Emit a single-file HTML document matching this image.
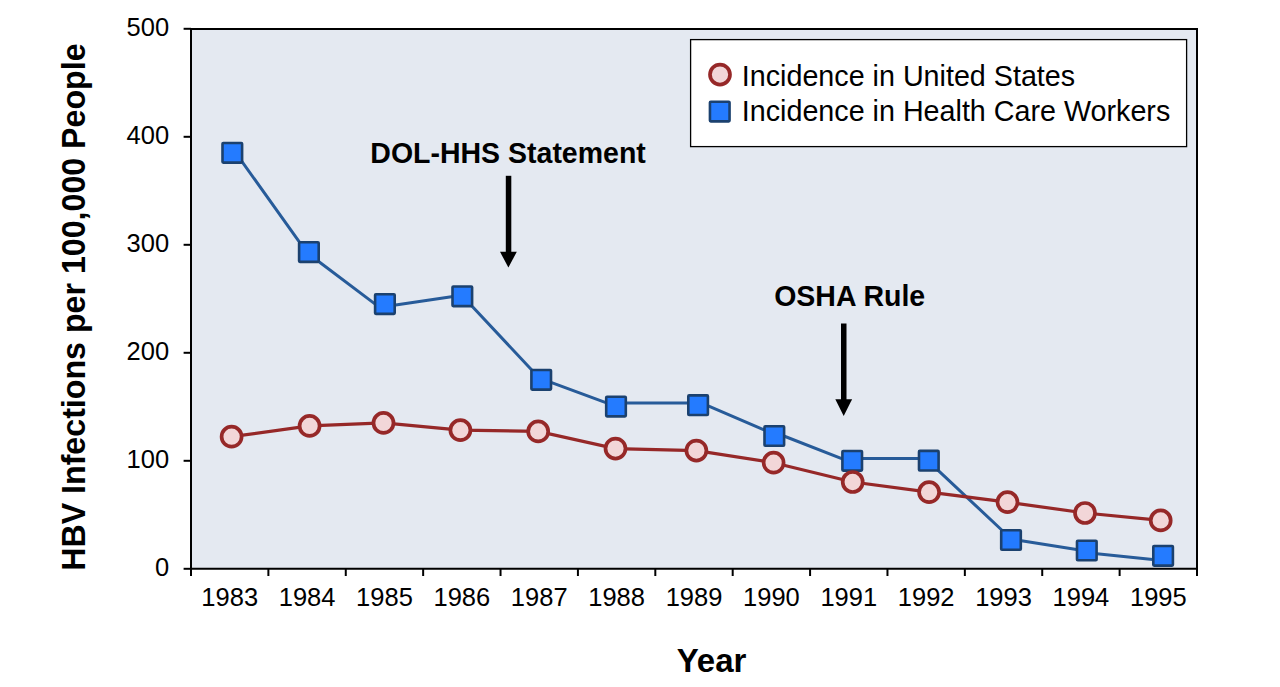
<!DOCTYPE html><html><head><meta charset="utf-8"><style>html,body{margin:0;padding:0;background:#fff;width:1280px;height:687px;overflow:hidden}svg{display:block}text{font-family:"Liberation Sans",sans-serif}</style></head><body>
<svg width="1280" height="687" viewBox="0 0 1280 687">
<rect x="191" y="29" width="1006" height="540" fill="#e4e9f1"/>
<rect x="690.6" y="39.6" width="496" height="107" fill="#fff" stroke="#000" stroke-width="1.3"/>
<path d="M191 28.9H1197V568.8H191Z" fill="none" stroke="#000" stroke-width="2"/>
<line x1="183.6" y1="568.80" x2="191" y2="568.80" stroke="#000" stroke-width="2"/>
<text transform="translate(169.10 576.20)" font-size="25.5" text-anchor="end">0</text>
<line x1="183.6" y1="460.80" x2="191" y2="460.80" stroke="#000" stroke-width="2"/>
<text transform="translate(169.10 468.20)" font-size="25.5" text-anchor="end">100</text>
<line x1="183.6" y1="352.80" x2="191" y2="352.80" stroke="#000" stroke-width="2"/>
<text transform="translate(169.10 360.20)" font-size="25.5" text-anchor="end">200</text>
<line x1="183.6" y1="244.80" x2="191" y2="244.80" stroke="#000" stroke-width="2"/>
<text transform="translate(169.10 252.20)" font-size="25.5" text-anchor="end">300</text>
<line x1="183.6" y1="136.80" x2="191" y2="136.80" stroke="#000" stroke-width="2"/>
<text transform="translate(169.10 144.20)" font-size="25.5" text-anchor="end">400</text>
<line x1="183.6" y1="28.80" x2="191" y2="28.80" stroke="#000" stroke-width="2"/>
<text transform="translate(169.10 36.20)" font-size="25.5" text-anchor="end">500</text>
<line x1="191.00" y1="568" x2="191.00" y2="576" stroke="#000" stroke-width="2"/>
<line x1="268.38" y1="568" x2="268.38" y2="576" stroke="#000" stroke-width="2"/>
<line x1="345.77" y1="568" x2="345.77" y2="576" stroke="#000" stroke-width="2"/>
<line x1="423.15" y1="568" x2="423.15" y2="576" stroke="#000" stroke-width="2"/>
<line x1="500.54" y1="568" x2="500.54" y2="576" stroke="#000" stroke-width="2"/>
<line x1="577.92" y1="568" x2="577.92" y2="576" stroke="#000" stroke-width="2"/>
<line x1="655.31" y1="568" x2="655.31" y2="576" stroke="#000" stroke-width="2"/>
<line x1="732.69" y1="568" x2="732.69" y2="576" stroke="#000" stroke-width="2"/>
<line x1="810.08" y1="568" x2="810.08" y2="576" stroke="#000" stroke-width="2"/>
<line x1="887.46" y1="568" x2="887.46" y2="576" stroke="#000" stroke-width="2"/>
<line x1="964.85" y1="568" x2="964.85" y2="576" stroke="#000" stroke-width="2"/>
<line x1="1042.23" y1="568" x2="1042.23" y2="576" stroke="#000" stroke-width="2"/>
<line x1="1119.62" y1="568" x2="1119.62" y2="576" stroke="#000" stroke-width="2"/>
<line x1="1197.00" y1="568" x2="1197.00" y2="576" stroke="#000" stroke-width="2"/>
<text transform="translate(229.69 606.10)" font-size="25.5" text-anchor="middle">1983</text>
<text transform="translate(307.08 606.10)" font-size="25.5" text-anchor="middle">1984</text>
<text transform="translate(384.46 606.10)" font-size="25.5" text-anchor="middle">1985</text>
<text transform="translate(461.85 606.10)" font-size="25.5" text-anchor="middle">1986</text>
<text transform="translate(539.23 606.10)" font-size="25.5" text-anchor="middle">1987</text>
<text transform="translate(616.62 606.10)" font-size="25.5" text-anchor="middle">1988</text>
<text transform="translate(694.00 606.10)" font-size="25.5" text-anchor="middle">1989</text>
<text transform="translate(771.38 606.10)" font-size="25.5" text-anchor="middle">1990</text>
<text transform="translate(848.77 606.10)" font-size="25.5" text-anchor="middle">1991</text>
<text transform="translate(926.15 606.10)" font-size="25.5" text-anchor="middle">1992</text>
<text transform="translate(1003.54 606.10)" font-size="25.5" text-anchor="middle">1993</text>
<text transform="translate(1080.92 606.10)" font-size="25.5" text-anchor="middle">1994</text>
<text transform="translate(1158.31 606.10)" font-size="25.5" text-anchor="middle">1995</text>
<text transform="translate(711.50 672.00)" font-size="33" font-weight="bold" text-anchor="middle">Year</text>
<text transform="translate(84.8 307.1) rotate(-90) scale(0.99 1)" font-size="32.5" font-weight="bold" text-anchor="middle">HBV Infections per 100,000 People</text>
<path d="M240.4 159.4L301.6 245.1M316.0 259.5L378.2 306.4M390.6 305.7L456.5 295.9M468.8 302.8L534.8 373.2M546.9 380.8L609.9 404.2M621.4 403.0L692.5 403.0M704.1 404.1L768.4 431.7M780.0 434.5L846.2 460.3M857.6 458.6L923.4 458.6M934.4 466.8L1004.9 533.0M1016.7 540.1L1081.3 550.2M1092.0 553.3L1157.5 559.9" fill="none" stroke="#275b99" stroke-width="3.0"/>
<rect x="222.50" y="143.00" width="19.6" height="19.6" rx="0.8" fill="#247bff" stroke="#1b416f" stroke-width="2.6"/>
<rect x="299.10" y="242.30" width="19.6" height="19.6" rx="0.8" fill="#247bff" stroke="#1b416f" stroke-width="2.6"/>
<rect x="375.10" y="294.30" width="19.6" height="19.6" rx="0.8" fill="#247bff" stroke="#1b416f" stroke-width="2.6"/>
<rect x="452.50" y="286.50" width="19.6" height="19.6" rx="0.8" fill="#247bff" stroke="#1b416f" stroke-width="2.6"/>
<rect x="531.40" y="370.00" width="19.6" height="19.6" rx="0.8" fill="#247bff" stroke="#1b416f" stroke-width="2.6"/>
<rect x="606.20" y="396.80" width="19.6" height="19.6" rx="0.8" fill="#247bff" stroke="#1b416f" stroke-width="2.6"/>
<rect x="688.30" y="395.40" width="19.6" height="19.6" rx="0.8" fill="#247bff" stroke="#1b416f" stroke-width="2.6"/>
<rect x="764.50" y="426.20" width="19.6" height="19.6" rx="0.8" fill="#247bff" stroke="#1b416f" stroke-width="2.6"/>
<rect x="842.40" y="451.00" width="19.6" height="19.6" rx="0.8" fill="#247bff" stroke="#1b416f" stroke-width="2.6"/>
<rect x="919.00" y="450.90" width="19.6" height="19.6" rx="0.8" fill="#247bff" stroke="#1b416f" stroke-width="2.6"/>
<rect x="1001.20" y="530.20" width="19.6" height="19.6" rx="0.8" fill="#247bff" stroke="#1b416f" stroke-width="2.6"/>
<rect x="1077.00" y="540.70" width="19.6" height="19.6" rx="0.8" fill="#247bff" stroke="#1b416f" stroke-width="2.6"/>
<rect x="1153.30" y="546.00" width="19.6" height="19.6" rx="0.8" fill="#247bff" stroke="#1b416f" stroke-width="2.6"/>
<polyline fill="none" stroke="#962828" stroke-width="3.2" points="231.6,436.7 309.6,425.9 383.5,422.9 460.4,430.2 538.2,431.4 615.5,448.6 696.4,450.6 773.6,462.7 852.7,482.0 929.1,492.2 1007.5,502.2 1085.0,513.0 1160.7,520.4"/>
<circle cx="231.6" cy="436.7" r="10.0" fill="#f2d6d8" stroke="#962828" stroke-width="3.7"/>
<circle cx="309.6" cy="425.9" r="10.0" fill="#f2d6d8" stroke="#962828" stroke-width="3.7"/>
<circle cx="383.5" cy="422.9" r="10.0" fill="#f2d6d8" stroke="#962828" stroke-width="3.7"/>
<circle cx="460.4" cy="430.2" r="10.0" fill="#f2d6d8" stroke="#962828" stroke-width="3.7"/>
<circle cx="538.2" cy="431.4" r="10.0" fill="#f2d6d8" stroke="#962828" stroke-width="3.7"/>
<circle cx="615.5" cy="448.6" r="10.0" fill="#f2d6d8" stroke="#962828" stroke-width="3.7"/>
<circle cx="696.4" cy="450.6" r="10.0" fill="#f2d6d8" stroke="#962828" stroke-width="3.7"/>
<circle cx="773.6" cy="462.7" r="10.0" fill="#f2d6d8" stroke="#962828" stroke-width="3.7"/>
<circle cx="852.7" cy="482.0" r="10.0" fill="#f2d6d8" stroke="#962828" stroke-width="3.7"/>
<circle cx="929.1" cy="492.2" r="10.0" fill="#f2d6d8" stroke="#962828" stroke-width="3.7"/>
<circle cx="1007.5" cy="502.2" r="10.0" fill="#f2d6d8" stroke="#962828" stroke-width="3.7"/>
<circle cx="1085.0" cy="513.0" r="10.0" fill="#f2d6d8" stroke="#962828" stroke-width="3.7"/>
<circle cx="1160.7" cy="520.4" r="10.0" fill="#f2d6d8" stroke="#962828" stroke-width="3.7"/>
<circle cx="720" cy="74.6" r="10.0" fill="#f2d6d8" stroke="#962828" stroke-width="3.7"/>
<rect x="709.95" y="101.80" width="19.6" height="19.6" rx="0.8" fill="#247bff" stroke="#1b416f" stroke-width="2.6"/>
<text transform="translate(741.80 86.10) scale(1 1.03)" font-size="28.7">Incidence in United States</text>
<text transform="translate(741.80 120.50) scale(1 1.03)" font-size="28.7">Incidence in Health Care Workers</text>
<text transform="translate(370.30 162.70) scale(1 1.05)" font-size="28.5" font-weight="bold">DOL-HHS Statement</text>
<rect x="505.8" y="175.8" width="5.5" height="77" fill="#000"/>
<path d="M500 251.8H516.8L508.4 267.5Z" fill="#000"/>
<text transform="translate(774.20 306.30) scale(1 1.05)" font-size="28.5" font-weight="bold">OSHA Rule</text>
<rect x="841" y="323.5" width="5.5" height="77" fill="#000"/>
<path d="M835.3 399.3H852.1L843.7 415.9Z" fill="#000"/>
</svg></body></html>
